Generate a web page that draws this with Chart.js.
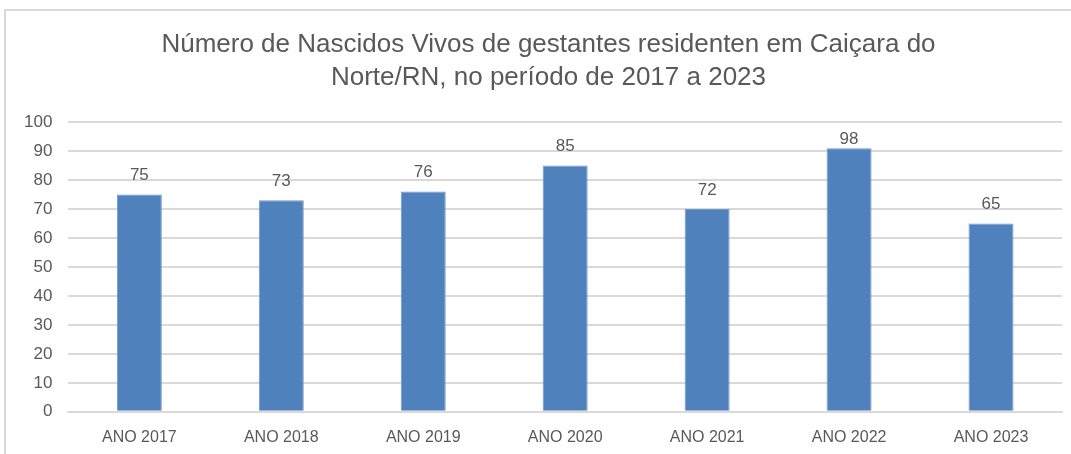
<!DOCTYPE html>
<html>
<head>
<meta charset="utf-8">
<script src="https://cdn.jsdelivr.net/npm/chart.js@4/dist/chart.umd.min.js"></script>
<style>
  body { margin: 0; background: #fff; overflow: hidden; }
  #frame { position: absolute; left: 4px; top: 9px; width: 1100px; height: 480px; border: 2px solid #d9d9d9; }
  #wrap { position: absolute; left: 0; top: 0; width: 1071px; height: 454px; }
</style>
</head>
<body>
<div id="frame"></div>
<div id="wrap"><canvas id="birthsChart"></canvas></div>
<script>
const categories = ["ANO 2017", "ANO 2018", "ANO 2019", "ANO 2020", "ANO 2021", "ANO 2022", "ANO 2023"];
// bar heights as drawn in the picture
const barValues = [75, 73, 76, 85, 70, 91, 65];
// numbers printed above the bars
const labelValues = [75, 73, 76, 85, 72, 98, 65];
const yTicks = [0, 10, 20, 30, 40, 50, 60, 70, 80, 90, 100];
const titleLines = ["Número de Nascidos Vivos de gestantes residenten em Caiçara do", "Norte/RN, no período de 2017 a 2023"];

const textColor = "#595959";
const titleFont = { family: "'Liberation Sans', sans-serif", size: 26, weight: "normal", lineHeight: 1.29 };

// draws the printed numbers above each bar, and the title centred on the frame
const barLabels = {
    id: "barLabels",
    afterDatasetsDraw(chart) {
        const ctx = chart.ctx;
        const meta = chart.getDatasetMeta(0);
        ctx.save();
        ctx.font = "17px 'Liberation Sans', sans-serif";
        ctx.fillStyle = textColor;
        ctx.textAlign = "center";
        ctx.textBaseline = "middle";
        meta.data.forEach((bar, i) => {
            const y = Math.max(bar.y - 19, chart.chartArea.top + 17);
            ctx.fillText(String(labelValues[i]), bar.x, y);
        });

        ctx.font = titleFont.size + "px " + titleFont.family;
        const lh = titleFont.size * titleFont.lineHeight;
        const tb = chart.titleBlock;
        titleLines.forEach((line, i) => {
            ctx.fillText(line, chart.width / 2 + 13, tb.top + 28 + lh * (i + 0.5));
        });
        ctx.restore();
    }
};

new Chart(document.getElementById("birthsChart"), {
    type: "bar",
    data: {
        labels: categories,
        datasets: [{
            data: barValues,
            backgroundColor: "#4f81bd",
            borderColor: "#6f97c9",
            borderWidth: 1,
            barPercentage: 0.634,
            categoryPercentage: 0.5
        }]
    },
    options: {
        responsive: true,
        maintainAspectRatio: false,
        animation: false,
        layout: { padding: { left: 8, right: 9, top: 0, bottom: -9 } },
        plugins: {
            legend: { display: false },
            tooltip: { enabled: false },
            title: {
                display: true,
                text: titleLines,
                color: "rgba(0,0,0,0)",
                font: titleFont,
                padding: { top: 28, bottom: 27 }
            }
        },
        scales: {
            x: {
                grid: { display: false, drawTicks: false },
                border: { color: "#d9d9d9", width: 2 },
                ticks: {
                    color: textColor,
                    padding: 16,
                    font: { family: "'Liberation Sans', sans-serif", size: 16 }
                }
            },
            y: {
                min: 0,
                max: 100,
                afterBuildTicks(axis) {
                    axis.ticks = yTicks.map(v => ({ value: v }));
                },
                grid: { color: "#d9d9d9", lineWidth: 2, drawTicks: false },
                border: { display: false },
                ticks: {
                    color: textColor,
                    padding: 16,
                    font: { family: "'Liberation Sans', sans-serif", size: 17 }
                }
            }
        }
    },
    plugins: [barLabels]
});
</script>
</body>
</html>
